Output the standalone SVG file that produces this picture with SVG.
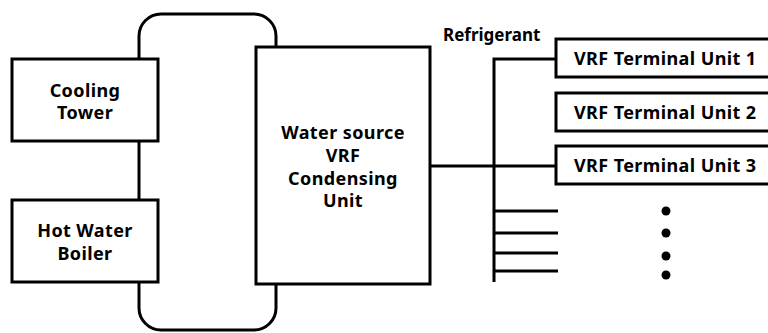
<svg xmlns="http://www.w3.org/2000/svg" width="768" height="333" viewBox="0 0 768 333">
<style>
.box{fill:#fff;stroke:#000;stroke-width:3}
.ln{fill:none;stroke:#000;stroke-width:3}
.t{font-family:"Noto Sans","Open Sans",sans-serif;font-weight:bold;font-size:18px;letter-spacing:0.4px;fill:#000;text-anchor:middle}
.tl{font-family:"Noto Sans","Open Sans",sans-serif;font-weight:bold;font-size:18px;letter-spacing:0.4px;fill:#000}
.tr{font-family:"Noto Sans","Open Sans",sans-serif;font-weight:bold;font-size:17px;fill:#000}
</style>
<rect width="768" height="333" fill="#fff"/>
<g id="connectors">
<rect class="ln" x="139" y="14" width="137" height="316" rx="22" ry="22"/>
<path class="ln" d="M430 166H556"/>
<path class="ln" d="M494 282V59H556"/>
<path class="ln" d="M494 211H558M494 233H558M494 253H558M494 271H558"/>
</g>
<g id="cooling-tower">
<rect class="box" x="12" y="59" width="146" height="82"/>
<text class="t" x="85" y="97">Cooling</text>
<text class="t" x="85" y="119">Tower</text>
</g>
<g id="hot-water-boiler">
<rect class="box" x="12" y="200" width="146" height="82"/>
<text class="t" x="85" y="237">Hot Water</text>
<text class="t" x="85" y="260">Boiler</text>
</g>
<g id="condensing-unit">
<rect class="box" x="256" y="47" width="174" height="237"/>
<text class="t" x="343" y="139">Water source</text>
<text class="t" x="343" y="162">VRF</text>
<text class="t" x="343" y="185">Condensing</text>
<text class="t" x="343" y="207">Unit</text>
</g>
<g id="refrigerant-label">
<text class="tr" x="443" y="41">Refrigerant</text>
</g>
<g id="terminal-1">
<rect class="box" x="556" y="39" width="216" height="38"/>
<text class="tl" x="574" y="65">VRF Terminal Unit 1</text>
</g>
<g id="terminal-2">
<rect class="box" x="556" y="93" width="216" height="38"/>
<text class="tl" x="574" y="119">VRF Terminal Unit 2</text>
</g>
<g id="terminal-3">
<rect class="box" x="556" y="146" width="216" height="38"/>
<text class="tl" x="574" y="172">VRF Terminal Unit 3</text>
</g>
<g id="ellipsis">
<circle cx="666" cy="211" r="4.5"/>
<circle cx="666" cy="233" r="4.5"/>
<circle cx="666" cy="256" r="4.5"/>
<circle cx="666" cy="275" r="4.5"/>
</g>
</svg>
